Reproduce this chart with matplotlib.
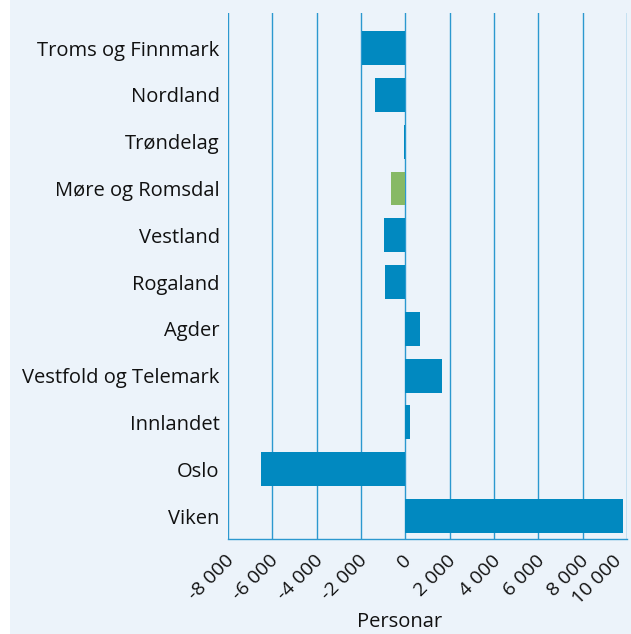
import matplotlib
matplotlib.use("Agg")
import matplotlib.pyplot as plt
import matplotlib.transforms as mtransforms
from matplotlib.patches import Rectangle
from matplotlib.ticker import FixedLocator

regions = ["Viken", "Oslo", "Innlandet", "Vestfold og Telemark", "Agder",
           "Rogaland", "Vestland", "Møre og Romsdal", "Trøndelag",
           "Nordland", "Troms og Finnmark"]
values = [9830, -6500, 210, 1660, 660, -920, -960, -650, -50, -1370, -1970]
highlight = "Møre og Romsdal"
xticks = [-8000, -6000, -4000, -2000, 0, 2000, 4000, 6000, 8000, 10000]
xlabel = "Personar"

blue = "#0189c0"
green = "#87b965"
bg = "#ecf3fa"
grid_col = "#2b98cf"

plt.rcParams['font.family'] = ['Open Sans', 'DejaVu Sans']

fig = plt.figure(figsize=(6.31, 6.34), dpi=100, facecolor="white")
fig.patches.append(Rectangle((10 / 631, 0), 1, 1, transform=fig.transFigure,
                             facecolor=bg, edgecolor="none", zorder=-5))
ax = fig.add_axes([228 / 631, 1 - 539 / 634, 399 / 631, 526 / 634])
ax.set_facecolor("none")

colors = [green if r == highlight else blue for r in regions]
ypos = list(range(len(regions)))
ax.barh(ypos, values, height=0.726, color=colors, zorder=3)

for t in xticks:
    ax.axvline(t, color=grid_col, linewidth=1, zorder=1)

ax.set_xlim(-8000, 10000)
ax.set_ylim(-0.49, 10.75)
ax.xaxis.set_major_locator(FixedLocator(xticks))
ax.set_xticklabels([f"{t:,}".replace(",", " ") for t in xticks],
                   rotation=45, ha="right", rotation_mode="anchor", fontsize=14)
ax.set_yticks(ypos)
ax.set_yticklabels(regions, fontsize=14.5)
ax.tick_params(axis="both", length=0, colors="#111111")
ax.tick_params(axis="y", pad=6)
ax.tick_params(axis="x", pad=9)

# nudge rotated labels left; the last one a bit more so it stays inside
labels = ax.get_xticklabels()
for i, lbl in enumerate(labels):
    dx = -15 if i == len(labels) - 1 else -3
    shift = mtransforms.ScaledTranslation(dx / 100, 0, fig.dpi_scale_trans)
    lbl.set_transform(lbl.get_transform() + shift)

for s in ["top", "left", "right"]:
    ax.spines[s].set_visible(False)
ax.spines["bottom"].set_color(grid_col)
ax.spines["bottom"].set_linewidth(1)

fig.text(400 / 631, 1 - 622 / 634, xlabel, ha="center", va="center",
         fontsize=14.5, fontweight="medium", color="#111111")

fig.savefig("out.png", dpi=100, facecolor=fig.get_facecolor())
